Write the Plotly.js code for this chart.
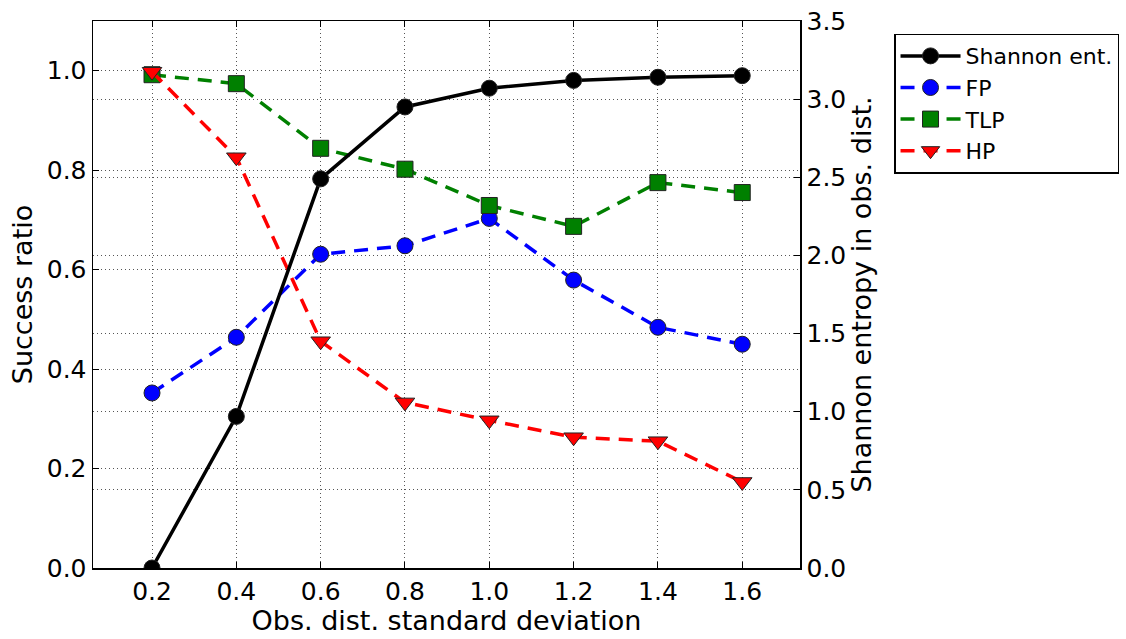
<!DOCTYPE html>
<html>
<head>
<meta charset="utf-8">
<script src="https://cdn.plot.ly/plotly-3.0.1.min.js"></script>
<style>html,body{margin:0;padding:0;background:#fff;}#chart{width:1126px;height:639px;}</style>
</head>
<body>
<div id="chart"></div>
<script>
const xVals = [0.2, 0.4, 0.6, 0.8, 1.0, 1.2, 1.4, 1.6];
const shannon = [0.0, 0.97, 2.49, 2.95, 3.07, 3.12, 3.14, 3.15];
const fp = [0.352, 0.464, 0.631, 0.648, 0.703, 0.579, 0.484, 0.450];
const tlp = [0.992, 0.974, 0.844, 0.802, 0.729, 0.687, 0.775, 0.755];
const hp = [0.998, 0.826, 0.456, 0.333, 0.297, 0.263, 0.255, 0.173];
const xTicks = [0.2, 0.4, 0.6, 0.8, 1.0, 1.2, 1.4, 1.6];
const xTickText = ["0.2", "0.4", "0.6", "0.8", "1.0", "1.2", "1.4", "1.6"];
const yTicks = [0.0, 0.2, 0.4, 0.6, 0.8, 1.0];
const yTickText = ["0.0", "0.2", "0.4", "0.6", "0.8", "1.0"];
const y2Ticks = [0.0, 0.5, 1.0, 1.5, 2.0, 2.5, 3.0, 3.5];
const y2TickText = ["0.0", "0.5", "1.0", "1.5", "2.0", "2.5", "3.0", "3.5"];

const mline = {color: '#222', width: 1};
const dashPat = '14px,9px';
const traces = [
  {x: xVals, y: fp, name: 'FP', mode: 'lines+markers', yaxis: 'y', legendrank: 2,
   line: {color: '#0000ff', width: 3.5, dash: dashPat},
   marker: {symbol: 'circle', size: 16, color: '#0000ff', line: mline}},
  {x: xVals, y: tlp, name: 'TLP', mode: 'lines+markers', yaxis: 'y', legendrank: 3,
   line: {color: '#008000', width: 3.5, dash: dashPat},
   marker: {symbol: 'square', size: 16, color: '#008000', line: mline}},
  {x: xVals, y: hp, name: 'HP', mode: 'lines+markers', yaxis: 'y', legendrank: 4,
   line: {color: '#ff0000', width: 3.5, dash: dashPat},
   marker: {symbol: 'triangle-down', size: 17, color: '#ff0000', line: mline}},
  {x: xVals, y: shannon, name: 'Shannon ent.', mode: 'lines+markers', yaxis: 'y2', legendrank: 1,
   line: {color: '#000000', width: 3.5},
   marker: {symbol: 'circle', size: 16, color: '#000000', line: mline}}
];

const gridStyle = {showgrid: true, gridcolor: '#555', gridwidth: 1, griddash: '1px,3px'};
const axisCommon = {ticks: 'inside', ticklen: 6, tickcolor: '#000', showline: true,
  linecolor: '#000', linewidth: 1.5, zeroline: false, tickfont: {size: 25}};
const layout = {
  width: 1126, height: 639,
  margin: {l: 93, r: 326, t: 21, b: 71, autoexpand: false},
  paper_bgcolor: '#ffffff', plot_bgcolor: '#ffffff',
  font: {family: 'DejaVu Sans', size: 25, color: '#000'},
  showlegend: true,
  legend: {x: 1.133, y: 0.977, xanchor: 'left', yanchor: 'top', traceorder: 'normal',
           bordercolor: '#000', borderwidth: 1.5, bgcolor: '#fff', tracegroupgap: 0,
           font: {family: 'DejaVu Sans', size: 22, color: '#000'}, itemwidth: 60},
  xaxis: Object.assign({range: [0.06, 1.737], tickvals: xTicks, ticktext: xTickText,
    mirror: 'ticks', automargin: false,
    title: {text: 'Obs. dist. standard deviation', font: {size: 27}, standoff: 4}},
    axisCommon, gridStyle),
  yaxis: Object.assign({range: [0, 1.1], tickvals: yTicks, ticktext: yTickText,
    automargin: false,
    title: {text: 'Success ratio', font: {size: 27}, standoff: 6}},
    axisCommon, gridStyle),
  yaxis2: Object.assign({range: [0, 3.5], tickvals: y2Ticks, ticktext: y2TickText,
    overlaying: 'y', side: 'right', anchor: 'x', automargin: false,
    title: {text: 'Shannon entropy in obs. dist.', font: {size: 27}, standoff: 6}},
    axisCommon, gridStyle)
};
Plotly.newPlot('chart', traces, layout, {displayModeBar: false, staticPlot: true});
</script>
</body>
</html>
